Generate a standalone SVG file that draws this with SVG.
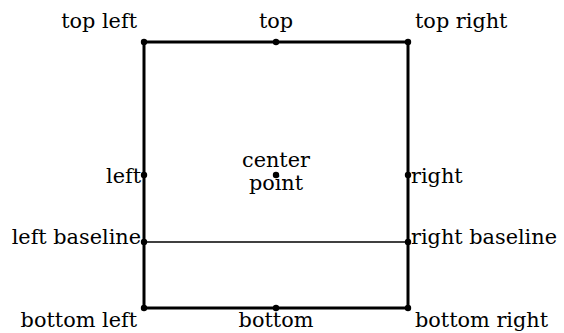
<svg xmlns="http://www.w3.org/2000/svg" width="564" height="333" viewBox="0 0 564 333">
<style>
text{font-family:"DejaVu Serif","Liberation Serif",serif;font-size:20.8px;fill:#000}
.box{fill:none;stroke:#000;stroke-width:3}
.base{stroke:#000;stroke-width:1.5}
.dot{fill:#000}
</style>
<rect width="564" height="333" fill="#fff"/>
<g id="connectors">
<rect class="box" x="144" y="42" width="264" height="266"/>
<line class="base" x1="144" y1="242" x2="408" y2="242"/>
</g>
<g id="top-left"><circle class="dot" cx="144" cy="42" r="3.2"/><text x="137" y="28" text-anchor="end">top left</text></g>
<g id="top"><circle class="dot" cx="276" cy="42" r="3.2"/><text x="276" y="28" text-anchor="middle">top</text></g>
<g id="top-right"><circle class="dot" cx="408" cy="42" r="3.2"/><text x="415" y="28">top right</text></g>
<g id="left"><circle class="dot" cx="144" cy="175" r="3.2"/><text x="141" y="183" text-anchor="end">left</text></g>
<g id="center"><circle class="dot" cx="276" cy="175" r="3.2"/><text x="276" y="167" text-anchor="middle">center</text><text x="276" y="190" text-anchor="middle">point</text></g>
<g id="right"><circle class="dot" cx="408" cy="175" r="3.2"/><text x="411" y="183">right</text></g>
<g id="left-baseline"><circle class="dot" cx="144" cy="242" r="3.2"/><text x="141" y="244" text-anchor="end">left baseline</text></g>
<g id="right-baseline"><circle class="dot" cx="408" cy="242" r="3.2"/><text x="411" y="244">right baseline</text></g>
<g id="bottom-left"><circle class="dot" cx="144" cy="308" r="3.2"/><text x="137" y="327" text-anchor="end">bottom left</text></g>
<g id="bottom"><circle class="dot" cx="276" cy="308" r="3.2"/><text x="276" y="327" text-anchor="middle">bottom</text></g>
<g id="bottom-right"><circle class="dot" cx="408" cy="308" r="3.2"/><text x="415" y="327">bottom right</text></g>
</svg>
